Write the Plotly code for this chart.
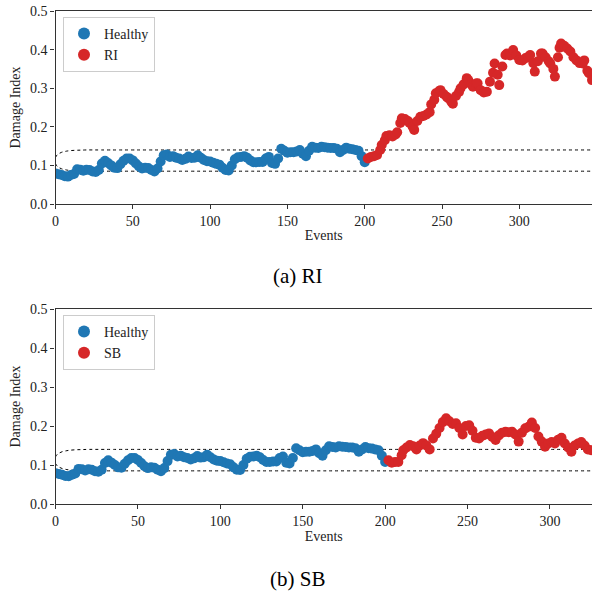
import plotly.graph_objects as go

# ---------------- data ----------------
healthy_events = list(range(0, 201, 2))
healthy_values = [
    0.079, 0.077, 0.075, 0.072, 0.071, 0.075, 0.078, 0.090, 0.089, 0.086,
    0.089, 0.088, 0.084, 0.083, 0.088, 0.105, 0.112, 0.106, 0.100, 0.094,
    0.093, 0.103, 0.112, 0.118, 0.118, 0.113, 0.105, 0.097, 0.092, 0.094,
    0.093, 0.088, 0.084, 0.092, 0.110, 0.126, 0.128, 0.122, 0.124, 0.120,
    0.118, 0.114, 0.117, 0.123, 0.119, 0.120, 0.126, 0.120, 0.114, 0.111,
    0.110, 0.107, 0.104, 0.102, 0.094, 0.088, 0.087, 0.100, 0.116, 0.121,
    0.122, 0.124, 0.120, 0.113, 0.108, 0.108, 0.109, 0.109, 0.118, 0.122,
    0.106, 0.104, 0.118, 0.143, 0.138, 0.133, 0.134, 0.134, 0.136, 0.140,
    0.130, 0.124, 0.138, 0.148, 0.146, 0.145, 0.148, 0.147, 0.146, 0.145,
    0.145, 0.143, 0.134, 0.140, 0.146, 0.143, 0.142, 0.140, 0.138, 0.124,
    0.108,
]

ri_events = [
    202, 204, 206, 208, 210, 211, 213, 214, 216, 218, 220, 221, 223, 224, 226,
    228, 229, 231, 232, 234, 236, 238, 240, 242, 243, 245, 246, 248, 249, 251,
    253, 254, 256, 257, 259, 261, 262, 264, 266, 267, 269, 270, 272, 273, 275,
    277, 279, 281, 283, 284, 286, 287, 289, 291, 292, 294, 296, 298, 300, 302,
    304, 306, 307, 309, 310, 312, 314, 315, 317, 319, 320, 322, 323, 325, 326,
    327, 329, 331, 333, 335, 337, 339, 341, 342, 344, 345, 347,
]
ri_values = [
    0.118, 0.122, 0.124, 0.127, 0.140, 0.153, 0.165, 0.176, 0.178, 0.175,
    0.180, 0.186, 0.210, 0.222, 0.220, 0.215, 0.210, 0.200, 0.192, 0.215,
    0.226, 0.228, 0.232, 0.238, 0.258, 0.270, 0.287, 0.292, 0.295, 0.285,
    0.278, 0.274, 0.265, 0.260, 0.280, 0.290, 0.300, 0.310, 0.326, 0.321,
    0.310, 0.304, 0.312, 0.313, 0.295, 0.289, 0.291, 0.317, 0.340, 0.364,
    0.335, 0.308, 0.356, 0.386, 0.390, 0.385, 0.399, 0.385, 0.373, 0.372,
    0.378, 0.382, 0.386, 0.365, 0.343, 0.370, 0.390, 0.390, 0.380, 0.370,
    0.364, 0.350, 0.330, 0.380, 0.405, 0.416, 0.410, 0.403, 0.395, 0.380,
    0.372, 0.365, 0.364, 0.372, 0.345, 0.339, 0.321,
]

sb_events = [
    202, 204, 206, 208, 210, 211, 213, 215, 217, 219, 221, 223, 225, 227, 229,
    231, 233, 235, 237, 239, 241, 243, 245, 247, 249, 251, 253, 255, 257, 259,
    261, 263, 265, 267, 269, 271, 273, 275, 277, 279, 281, 283, 285, 287, 289,
    291, 293, 295, 297, 299, 301, 303, 305, 307, 309, 311, 313, 315, 317, 319,
    321, 323, 325,
]
sb_values = [
    0.112, 0.106, 0.108, 0.108, 0.125, 0.138, 0.145, 0.151, 0.148, 0.140,
    0.150, 0.156, 0.150, 0.140, 0.168, 0.180, 0.195, 0.210, 0.220, 0.212,
    0.205, 0.207, 0.195, 0.178, 0.200, 0.202, 0.188, 0.170, 0.168, 0.175,
    0.178, 0.181, 0.172, 0.164, 0.176, 0.183, 0.185, 0.184, 0.185, 0.178,
    0.160, 0.183, 0.194, 0.198, 0.209, 0.195, 0.173, 0.160, 0.147, 0.155,
    0.159, 0.155, 0.165, 0.170, 0.155, 0.145, 0.134, 0.150, 0.155, 0.159,
    0.150, 0.140, 0.138,
]

bound_events_ri = [0, 1, 2, 4, 6, 8, 12, 16, 20, 30, 350]
bound_events_sb = [0, 1, 2, 4, 6, 8, 12, 16, 20, 30, 330]
upper_bound = [0.121, 0.127, 0.130, 0.134, 0.136, 0.1375, 0.139, 0.1395, 0.140, 0.140, 0.140]
lower_bound = [0.104, 0.098, 0.095, 0.091, 0.089, 0.0875, 0.086, 0.0855, 0.085, 0.085, 0.085]

y_ticks = [0.0, 0.1, 0.2, 0.3, 0.4, 0.5]
x_ticks = [0, 50, 100, 150, 200, 250, 300]

# ---------------- figure ----------------
BLUE = "#1f77b4"
RED = "#d62728"
FONT = "Liberation Serif"
W, H = 592, 595
MS = 10

fig = go.Figure()

def add_panel(xa, ya, dmg_x, dmg_y, dmg_name, bx, legend):
    fig.add_trace(go.Scatter(
        x=bx, y=upper_bound, mode="lines", line=dict(color="black", width=1, dash="dot", shape="spline"),
        xaxis=xa, yaxis=ya, showlegend=False, hoverinfo="skip"))
    fig.add_trace(go.Scatter(
        x=bx, y=lower_bound, mode="lines", line=dict(color="black", width=1, dash="dot", shape="spline"),
        xaxis=xa, yaxis=ya, showlegend=False, hoverinfo="skip"))
    fig.add_trace(go.Scatter(
        x=healthy_events, y=healthy_values, mode="markers", name="Healthy",
        marker=dict(color=BLUE, size=MS, line=dict(width=0)),
        xaxis=xa, yaxis=ya, legend=legend))
    fig.add_trace(go.Scatter(
        x=dmg_x, y=dmg_y, mode="markers", name=dmg_name,
        marker=dict(color=RED, size=MS, line=dict(width=0)),
        xaxis=xa, yaxis=ya, legend=legend))

add_panel("x", "y", ri_events, ri_values, "RI", bound_events_ri, "legend")
add_panel("x2", "y2", sb_events, sb_values, "SB", bound_events_sb, "legend2")

axis_common = dict(
    showgrid=False, zeroline=False, showline=True, linecolor="#333", linewidth=1.2,
    ticks="outside", ticklen=4, tickwidth=1, tickcolor="#333", automargin=False,
    tickfont=dict(family=FONT, size=14, color="#222"),
)

x0 = 55.5 / W
title_font = dict(family=FONT, size=14, color="#222")

fig.update_layout(
    width=W, height=H,
    margin=dict(l=0, r=0, t=0, b=0, autoexpand=False),
    plot_bgcolor="white", paper_bgcolor="white",
    font=dict(family=FONT, size=14, color="#222"),
    xaxis=dict(axis_common, domain=[x0, 1.0], range=[0, 347], tickvals=x_ticks, mirror=True,
               anchor="y", title=dict(text="Events", font=title_font, standoff=2)),
    yaxis=dict(axis_common, domain=[1 - 204 / H, 1 - 11 / H], range=[0, 0.5], tickvals=y_ticks,
               tickformat=".1f", anchor="x",
               title=dict(text="Damage Index", font=title_font, standoff=6)),
    xaxis2=dict(axis_common, domain=[x0, 1.0], range=[0, 325.5], tickvals=x_ticks, mirror=True,
                anchor="y2", title=dict(text="Events", font=title_font, standoff=2)),
    yaxis2=dict(axis_common, domain=[1 - 504 / H, 1 - 309 / H], range=[0, 0.5], tickvals=y_ticks,
                tickformat=".1f", anchor="x2",
                title=dict(text="Damage Index", font=title_font, standoff=6)),
    legend=dict(x=63 / W, y=1 - 17 / H, xanchor="left", yanchor="top",
                bgcolor="white", bordercolor="#cccccc", borderwidth=1,
                font=dict(family=FONT, size=14), itemsizing="constant"),
    legend2=dict(x=63 / W, y=1 - 315 / H, xanchor="left", yanchor="top",
                 bgcolor="white", bordercolor="#cccccc", borderwidth=1,
                 font=dict(family=FONT, size=14), itemsizing="constant"),
    annotations=[
        dict(text="(a) RI", x=0.503, y=1 - 276 / H, xref="paper", yref="paper",
             showarrow=False, font=dict(family=FONT, size=21, color="black"),
             xanchor="center", yanchor="middle"),
        dict(text="(b) SB", x=0.503, y=1 - 579 / H, xref="paper", yref="paper",
             showarrow=False, font=dict(family=FONT, size=21, color="black"),
             xanchor="center", yanchor="middle"),
    ],
)

fig.write_html(
    "out.html",
    config={"displayModeBar": False},
    post_script="document.body.style.margin='0';document.body.style.overflow='hidden';",
)
